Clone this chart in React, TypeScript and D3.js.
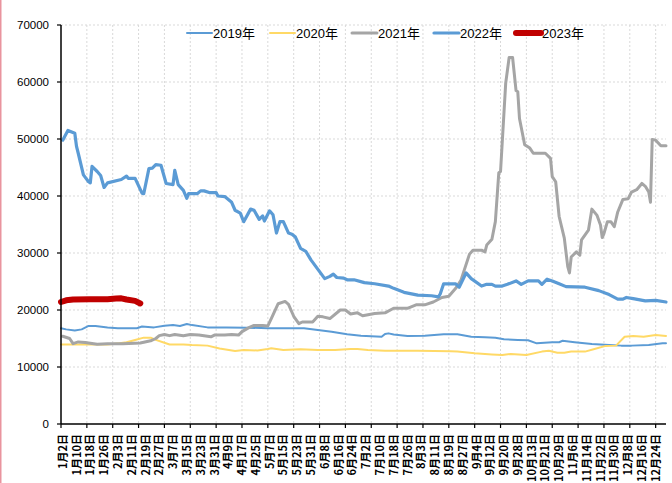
import React, { useEffect, useRef } from 'react';
import * as d3 from 'd3';

// x axis: daily categories, long holidays left out
const monthDays = [31, 28, 31, 30, 31, 30, 31, 31, 30, 31, 30, 31];
const holidays = ['4月5日', '5月1日', '5月2日', '5月3日', '5月4日',
  '10月1日', '10月2日', '10月3日', '10月4日', '10月5日', '10月6日', '10月7日'];
const tickLabels = ['1月2日', '1月10日', '1月18日', '1月26日', '2月3日', '2月11日', '2月19日', '2月27日',
  '3月7日', '3月15日', '3月23日', '3月31日', '4月9日', '4月17日', '4月25日', '5月7日', '5月15日',
  '5月23日', '5月31日', '6月8日', '6月16日', '6月24日', '7月2日', '7月10日', '7月18日', '7月26日',
  '8月3日', '8月11日', '8月19日', '8月27日', '9月4日', '9月12日', '9月20日', '9月28日', '10月13日',
  '10月21日', '10月29日', '11月6日', '11月14日', '11月22日', '11月30日', '12月8日', '12月16日', '12月24日'];
const yTicks = [0, 10000, 20000, 30000, 40000, 50000, 60000, 70000];

const dates2019 = ['1月2日', '1月5日', '1月10日', '1月14日', '1月18日', '1月22日', '1月29日', '2月4日', '2月15日',
  '2月18日', '2月25日', '3月3日', '3月8日', '3月12日', '3月16日', '3月19日', '3月28日', '4月9日', '4月21日',
  '5月7日', '5月28日', '6月5日', '6月13日', '6月22日', '6月30日', '7月12日', '7月14日', '7月16日', '7月19日',
  '7月27日', '8月6日', '8月17日', '8月25日', '9月2日', '9月10日', '9月16日', '9月21日', '9月29日', '10月12日',
  '10月17日', '10月26日', '10月30日', '11月1日', '11月8日', '11月18日', '11月28日', '12月5日', '12月11日',
  '12月21日', '12月29日', '12月31日'];
const values2019 = [16800, 16600, 16400, 16600, 17200, 17200, 16950, 16800, 16800,
  17100, 16950, 17250, 17350, 17200, 17550, 17350, 16950, 16950, 16900,
  16800, 16800, 16500, 16200, 15750, 15500, 15300, 15800, 15900, 15700,
  15450, 15500, 15750, 15750, 15300, 15200, 15150, 14850, 14750, 14700,
  14150, 14350, 14350, 14600, 14350, 14050, 13850, 13750, 13750,
  13850, 14150, 14150];

const dates2020 = ['1月2日', '1月15日', '1月29日', '2月5日', '2月9日', '2月14日', '2月19日', '2月23日', '2月26日',
  '3月3日', '3月6日', '3月14日', '3月19日', '3月28日', '4月4日', '4月14日', '4月19日', '4月27日', '5月7日',
  '5月9日', '5月16日', '5月26日', '6月5日', '6月15日', '6月24日', '6月28日', '7月4日', '7月14日', '8月2日',
  '8月21日', '8月25日', '9月4日', '9月14日', '9月20日', '9月25日', '10月11日', '10月20日', '10月24日',
  '10月29日', '11月2日', '11月6日', '11月14日', '11月19日', '11月26日', '12月2日', '12月7日', '12月12日',
  '12月18日', '12月25日', '12月31日'];
const values2020 = [13950, 13950, 13950, 14150, 14350, 14750, 15150, 15150, 14750,
  14250, 13950, 13950, 13850, 13750, 13250, 12800, 13000, 12900, 13150,
  13300, 13000, 13100, 13000, 13000, 13150, 13150, 13000, 12850, 12850,
  12750, 12700, 12400, 12200, 12100, 12300, 12100, 12700, 12850,
  12500, 12500, 12700, 12700, 13100, 13700, 13750, 15300, 15450,
  15300, 15600, 15450];

const dates2021 = ['1月3日', '1月7日', '1月9日', '1月12日', '1月16日', '1月23日', '1月29日', '2月7日', '2月17日',
  '2月23日', '2月26日', '2月28日', '3月3日', '3月6日', '3月9日', '3月14日', '3月18日', '3月23日', '3月30日',
  '4月1日', '4月8日', '4月12日', '4月16日', '4月18日', '4月22日', '4月25日', '4月30日', '5月7日', '5月9日',
  '5月13日', '5月17日', '5月19日', '5月22日', '5月25日', '5月27日', '6月2日', '6月5日', '6月8日', '6月12日',
  '6月18日', '6月21日', '6月24日', '6月28日', '7月1日', '7月8日', '7月14日', '7月19日', '7月27日', '8月1日',
  '8月6日', '8月11日', '8月16日', '8月20日', '8月24日', '8月27日', '9月1日', '9月3日', '9月8日', '9月10日',
  '9月11日', '9月14日', '9月16日', '9月18日', '9月19日', '9月22日', '9月24日', '9月26日', '9月28日', '9月29日',
  '9月30日', '10月10日', '10月13日', '10月15日', '10月22日', '10月25日', '10月26日', '10月28日', '10月30日',
  '11月2日', '11月4日', '11月5日', '11月6日', '11月9日', '11月11日', '11月12日', '11月16日', '11月18日',
  '11月21日', '11月23日', '11月24日', '11月25日', '11月27日', '11月29日', '12月1日', '12月3日', '12月6日',
  '12月9日', '12月11日', '12月14日', '12月17日', '12月19日', '12月21日', '12月22日', '12月23日', '12月25日',
  '12月28日', '12月31日'];
const values2021 = [15400, 15000, 14100, 14400, 14300, 14000, 14100, 14100, 14200,
  14600, 15000, 15500, 15700, 15500, 15700, 15500, 15700, 15600, 15300,
  15600, 15600, 15700, 15600, 16200, 16900, 17300, 17300, 17200, 18500,
  21100, 21500, 21000, 18900, 17600, 17900, 17900, 18900, 18800, 18500,
  20000, 20000, 19300, 19500, 19000, 19400, 19500, 20300, 20300, 20900,
  20900, 21400, 22200, 22400, 23800, 25200, 29800, 30500, 30500, 30200,
  31400, 32400, 35500, 44100, 44300, 59800, 64300, 64300, 58500, 58300,
  53600, 49000, 48400, 47500, 47500, 46600, 43400, 42500, 36400,
  32600, 27600, 26500, 29300, 30200, 29600, 32300, 34000, 37700,
  36600, 34900, 32700, 33400, 35500, 35500, 34600, 37200, 39400,
  39500, 40700, 41100, 42200, 41700, 40700, 38900, 49900, 49800,
  48800, 48800];

const dates2022 = ['1月3日', '1月6日', '1月10日', '1月11日', '1月12日', '1月15日', '1月18日', '1月19日', '1月20日',
  '1月23日', '1月25日', '1月27日', '1月29日', '2月6日', '2月9日', '2月10日', '2月14日', '2月18日', '2月19日',
  '2月22日', '2月24日', '2月26日', '3月1日', '3月4日', '3月8日', '3月9日', '3月11日', '3月14日', '3月16日',
  '3月17日', '3月22日', '3月24日', '3月26日', '3月29日', '4月2日', '4月3日', '4月8日', '4月12日', '4月14日',
  '4月17日', '4月19日', '4月23日', '4月25日', '4月28日', '4月30日', '5月5日', '5月8日', '5月10日', '5月12日',
  '5月14日', '5月16日', '5月19日', '5月21日', '5月23日', '5月26日', '5月29日', '6月1日', '6月9日', '6月12日',
  '6月14日', '6月16日', '6月20日', '6月22日', '6月26日', '7月2日', '7月8日', '7月16日', '7月19日', '7月25日',
  '8月2日', '8月10日', '8月14日', '8月15日', '8月17日', '8月24日', '8月26日', '8月30日', '9月2日', '9月8日',
  '9月11日', '9月14日', '9月16日', '9月20日', '9月23日', '9月28日', '10月8日', '10月12日', '10月18日',
  '10月20日', '10月23日', '10月26日', '10月30日', '11月3日', '11月14日', '11月22日', '11月28日', '12月3日',
  '12月6日', '12月8日', '12月12日', '12月19日', '12月25日', '12月31日'];
const values2022 = [49800, 51500, 51000, 48700, 47500, 43700, 42500, 42300, 45200,
  44300, 43600, 41500, 42300, 42900, 43500, 43100, 43100, 40500, 40400,
  44800, 44900, 45500, 45400, 42200, 42000, 44500, 42000, 41000, 39600,
  40400, 40400, 40900, 40900, 40600, 40600, 40000, 39900, 38900, 37500,
  37000, 35500, 37700, 37500, 35900, 36500, 35600, 37400, 36700, 33500,
  35500, 35500, 33500, 33300, 32800, 30800, 30300, 28800, 25500, 25900,
  26300, 25700, 25600, 25300, 25300, 24800, 24600, 24200, 23800, 23100,
  22600, 22500, 22300, 22800, 24600, 24600, 24000, 26500, 25500, 24200,
  24500, 24500, 24200, 24200, 24500, 25100, 24500, 25100, 25100,
  24500, 25400, 25100, 24600, 24100, 24000, 23400, 22700, 21900,
  21900, 22200, 22000, 21600, 21700, 21400];

const dates2023 = ['1月2日', '1月5日', '1月9日', '1月19日', '1月29日', '2月3日', '2月6日', '2月9日', '2月14日', '2月17日'];
const values2023 = [21400, 21700, 21850, 21900, 21900, 22000, 22050, 21850, 21600, 21150];

const seriesList = [
  { name: '2019年', dates: dates2019, values: values2019, color: '#5B9BD5', width: 2 },
  { name: '2020年', dates: dates2020, values: values2020, color: '#FFD966', width: 2 },
  { name: '2021年', dates: dates2021, values: values2021, color: '#A5A5A5', width: 3 },
  { name: '2022年', dates: dates2022, values: values2022, color: '#5B9BD5', width: 3.2 },
  { name: '2023年', dates: dates2023, values: values2023, color: '#C00000', width: 6 },
];

const categories: string[] = [];
monthDays.forEach((n, m) => {
  for (let d = 1; d <= n; d++) {
    if (m === 0 && d === 1) continue;
    const key = `${m + 1}月${d}日`;
    if (!holidays.includes(key)) categories.push(key);
  }
});

const W = 672;
const H = 483;

const App = () => {
  const svgRef = useRef<SVGSVGElement>(null);

  useEffect(() => {
    if (!svgRef.current) return;
    const svg = d3.select(svgRef.current);
    svg.selectAll('*').remove();

    const left = 61, right = 666, top = 25, bottom = 424;
    const x = d3.scalePoint<string>().domain(categories).range([left, right]);
    const y = d3.scaleLinear().domain([0, 70000]).range([bottom, top]);

    // pink frame edge on the left
    svg.append('line').attr('x1', 0.75).attr('x2', 0.75).attr('y1', 0).attr('y2', H)
      .attr('stroke', '#e9949e').attr('stroke-width', 1.5);

    // grid
    const grid = svg.append('g').attr('stroke', '#d9d9d9').attr('stroke-width', 1).attr('stroke-dasharray', '2,2');
    yTicks.filter(t => t > 0).forEach(t => {
      grid.append('line').attr('x1', left).attr('x2', right).attr('y1', y(t)).attr('y2', y(t));
    });
    const gridCats = categories.filter((_, i) => i % 15 === 0 && i > 0);
    gridCats.forEach(c => {
      grid.append('line').attr('x1', x(c)!).attr('x2', x(c)!).attr('y1', top).attr('y2', bottom);
    });

    // series
    const line = d3.line<[string, number]>()
      .x(d => x(d[0])!)
      .y(d => y(d[1]))
      .curve(d3.curveLinear);

    seriesList.forEach(s => {
      const pts = s.dates.map((d, i) => [d, s.values[i]] as [string, number]);
      svg.append('path')
        .datum(pts)
        .attr('d', line)
        .attr('fill', 'none')
        .attr('stroke', s.color)
        .attr('stroke-width', s.width)
        .attr('stroke-linejoin', 'round')
        .attr('stroke-linecap', 'round');
    });

    // axes
    svg.append('line').attr('x1', left).attr('x2', left).attr('y1', top).attr('y2', bottom)
      .attr('stroke', '#000').attr('stroke-width', 1.5);
    svg.append('line').attr('x1', left).attr('x2', right).attr('y1', bottom).attr('y2', bottom)
      .attr('stroke', '#000').attr('stroke-width', 1.5);

    yTicks.forEach(t => {
      svg.append('line').attr('x1', left - 4).attr('x2', left).attr('y1', y(t)).attr('y2', y(t))
        .attr('stroke', '#000').attr('stroke-width', 1.2);
      svg.append('text').attr('x', 49).attr('y', y(t)).attr('dy', '0.35em')
        .attr('text-anchor', 'end')
        .attr('font-family', 'Liberation Sans, Arial, sans-serif').attr('font-size', 11.5)
        .attr('fill', '#000').text(String(t));
    });

    categories.forEach((c, i) => {
      if (i % 15 !== 0) return;
      svg.append('line').attr('x1', x(c)!).attr('x2', x(c)!).attr('y1', bottom).attr('y2', bottom + 4)
        .attr('stroke', '#000').attr('stroke-width', 1.2);
    });

    tickLabels.forEach(lbl => {
      const px = x(lbl)! + 2;
      svg.append('text')
        .attr('transform', `translate(${px},${bottom + 10}) rotate(-90)`)
        .attr('dy', '0.35em')
        .attr('text-anchor', 'end')
        .attr('font-family', 'Noto Sans CJK SC, sans-serif').attr('font-weight', 'bold')
        .attr('font-size', 11).attr('fill', '#000')
        .text(lbl);
    });

    // legend
    const legendX = [187, 270, 352, 434, 516];
    seriesList.forEach((s, i) => {
      const lx = legendX[i];
      svg.append('line').attr('x1', lx).attr('x2', lx + 25).attr('y1', 33).attr('y2', 33)
        .attr('stroke', s.color).attr('stroke-width', s.width)
        .attr('stroke-linecap', 'round');
      svg.append('text').attr('x', lx + 26).attr('y', 33).attr('dy', '0.35em')
        .attr('font-family', 'Liberation Sans, Noto Sans CJK SC, sans-serif').attr('font-size', 13)
        .attr('fill', '#000').text(s.name);
    });
  }, []);

  return (
    <div style={{ position: 'absolute', left: 0, top: 0 }}>
      <svg ref={svgRef} width={W} height={H} style={{ display: 'block', background: '#fff' }}></svg>
    </div>
  );
};

export default App;
